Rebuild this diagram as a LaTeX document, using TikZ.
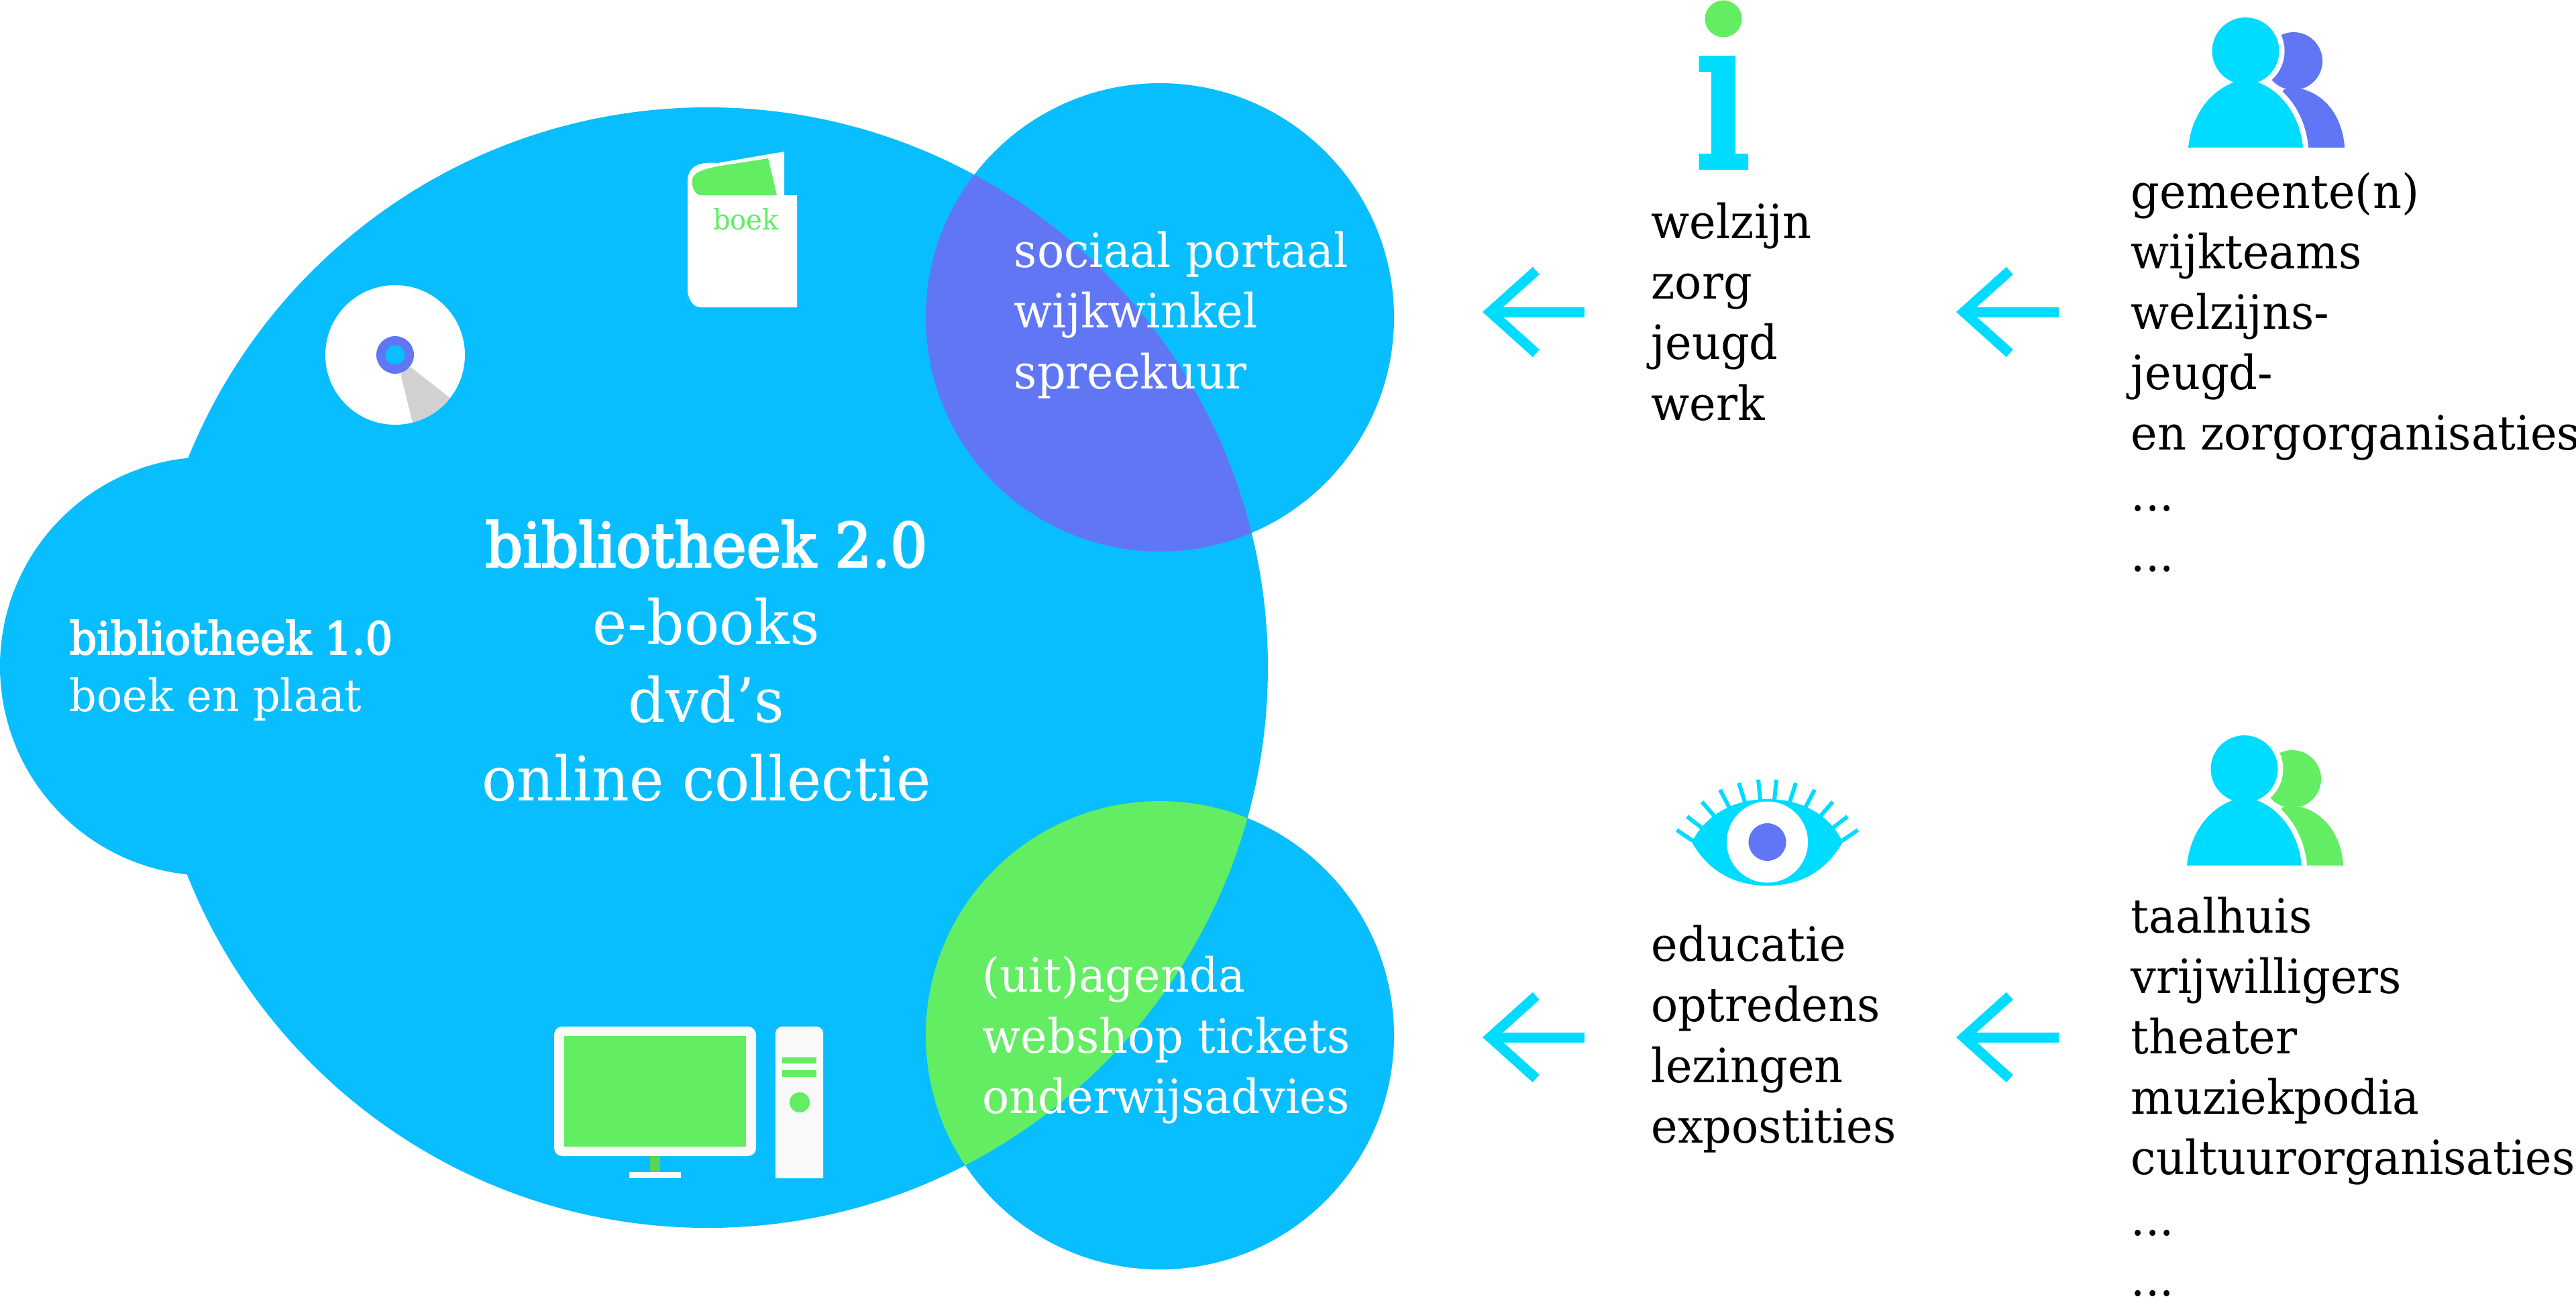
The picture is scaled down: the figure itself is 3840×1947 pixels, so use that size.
\documentclass[tikz,border=0pt]{standalone}
\usepackage{fontspec}
\usetikzlibrary{arrows.meta}
\setmainfont{DejaVu Serif}[FakeStretch=0.95]
\newfontfamily\slabsemi{DejaVu Serif}[FakeStretch=0.95,FakeBold=3]
\definecolor{skyblue}{HTML}{08BEFF}
\definecolor{lensblue}{HTML}{6076F5}
\definecolor{lensgreen}{HTML}{62ED62}
\definecolor{iconcyan}{HTML}{00DCFF}
\definecolor{paper}{HTML}{F9F9F9}
\tikzset{
  listtext/.style={inner sep=0pt,anchor=base west,align=left,font=\fontsize{20}{25.6}\selectfont,text=black},
  lenstext/.style={inner sep=0pt,anchor=base west,align=left,font=\fontsize{20}{25.6}\selectfont,text=white},
  conn/.style={draw=iconcyan,line width=0.15cm,-{Straight Barb[length=19.5pt,width=35pt]}},
  lash/.style={draw=iconcyan,line width=0.06cm},
  halo/.style={draw=white,line width=0.16cm,fill=iconcyan,line join=round}
}
\begin{document}
\begin{tikzpicture}[x=0.01cm,y=-0.01cm]
\useasboundingbox (0,0) rectangle (3840,1947);
\fill[white] (0,0) rectangle (3840,1947);
% circles
\fill[skyblue] (312,993) circle[radius=312];
\fill[skyblue] (1729,473) circle[radius=349];
\fill[skyblue] (1729,1543) circle[radius=349];
\fill[skyblue] (1055,995) circle[radius=835];
\begin{scope}
\clip (1055,995) circle[radius=835];
\fill[lensblue] (1729,473) circle[radius=349];
\fill[lensgreen] (1729,1543) circle[radius=349];
\end{scope}
% book
\fill[white] (1025,458) -- (1025,270) .. controls (1025,250) and (1040,240) .. (1069,243) -- (1169,226) -- (1169,291) -- (1188,291) -- (1188,458) -- (1045,458) .. controls (1032,458) and (1025,445) .. (1025,430) -- cycle;
\fill[lensgreen] (1145,236) -- (1158,291) -- (1046,291) .. controls (1036,291) and (1031,280) .. (1032,268) .. controls (1033,258) and (1045,253) .. (1069,248) -- cycle;
\node[inner sep=0pt,anchor=base,text=lensgreen,font=\fontsize{12}{14}\selectfont] (bookword) at (1112,342) {boek};
% cd
\fill[white] (589,529) circle[radius=104];
\begin{scope}
\clip (589,529) circle[radius=104];
\fill[black!18] (597,557) -- (612,547) -- (690,608) -- (620,650) -- cycle;
\end{scope}
\fill[lensblue] (589,529) circle[radius=28];
\fill[skyblue] (589,529) circle[radius=14.5];
% computer
\fill[paper,rounded corners=0.12cm] (826,1530) rectangle (1127,1723);
\fill[lensgreen] (841,1544) rectangle (1112,1709);
\fill[lensgreen!90!black] (969,1723) rectangle (984,1747);
\fill[paper] (938,1747) rectangle (1015,1756);
\fill[paper,rounded corners=0.1cm] (1156,1756) [sharp corners] -- (1156,1540) [rounded corners=0.1cm] -- (1156,1530) -- (1227,1530) -- (1227,1540) [sharp corners] -- (1227,1756) -- cycle;
\fill[lensgreen] (1166,1576) rectangle (1217,1585);
\fill[lensgreen] (1166,1595) rectangle (1217,1605);
\fill[lensgreen] (1192,1643) circle[radius=15];
% info i
\fill[lensgreen] (2569,28) circle[radius=27.5];
\fill[iconcyan] (2532.5,83) -- (2587,83) -- (2587,229) -- (2606,229) -- (2606,253) -- (2532.5,253) -- (2532.5,229) -- (2551,229) -- (2551,107) -- (2532.5,107) -- cycle;
% people, top
\fill[lensblue] (3419,91) circle[radius=43];
\fill[lensblue] (3495,220) .. controls (3493,185) and (3475,145) .. (3433,133) -- (3405,133) -- (3340,220) -- cycle;
\path[halo] (3347.5,76) circle[radius=50];
\path[halo] (3262,220) .. controls (3266,175) and (3292,136) .. (3332,122) -- (3364,122) .. controls (3403,136) and (3429,175) .. (3433,220) -- cycle;
\fill[iconcyan] (3347.5,76) circle[radius=50];
\fill[iconcyan] (3262,220) .. controls (3266,175) and (3292,136) .. (3332,122) -- (3364,122) .. controls (3403,136) and (3429,175) .. (3433,220) -- cycle;
% people, bottom
\begin{scope}[shift={(-2,1070)}]
\fill[lensgreen] (3419,91) circle[radius=43];
\fill[lensgreen] (3495,220) .. controls (3493,185) and (3475,145) .. (3433,133) -- (3405,133) -- (3340,220) -- cycle;
\path[halo] (3347.5,76) circle[radius=50];
\path[halo] (3262,220) .. controls (3266,175) and (3292,136) .. (3332,122) -- (3364,122) .. controls (3403,136) and (3429,175) .. (3433,220) -- cycle;
\fill[iconcyan] (3347.5,76) circle[radius=50];
\fill[iconcyan] (3262,220) .. controls (3266,175) and (3292,136) .. (3332,122) -- (3364,122) .. controls (3403,136) and (3429,175) .. (3433,220) -- cycle;
\end{scope}
% eye
\fill[iconcyan] (2522,1255) .. controls (2545,1210) and (2590,1191) .. (2634.5,1191) .. controls (2680,1191) and (2725,1210) .. (2747,1255) .. controls (2722,1298) and (2685,1320) .. (2634.5,1320) .. controls (2585,1320) and (2546,1298) .. (2522,1255) -- cycle;
\fill[white] (2634.5,1255) circle[radius=60.5];
\fill[lensblue] (2634.5,1255) circle[radius=28];
\draw[lash] (2499.5,1237) -- (2523,1253);
\draw[lash] (2515,1217) -- (2537,1234);
\draw[lash] (2537,1195) -- (2556,1217);
\draw[lash] (2564,1177) -- (2577.5,1203);
\draw[lash] (2592,1167) -- (2601,1195);
\draw[lash] (2621,1162) -- (2624,1192);
\draw[lash] (2769.5,1237) -- (2746,1253);
\draw[lash] (2754,1217) -- (2732,1234);
\draw[lash] (2732,1195) -- (2713,1217);
\draw[lash] (2705,1177) -- (2691.5,1203);
\draw[lash] (2677,1167) -- (2668,1195);
\draw[lash] (2648,1162) -- (2645,1192);
% connectors
\coordinate (a1from) at (2362,465); \coordinate (a1to) at (2210,465);
\coordinate (a2from) at (3069,465); \coordinate (a2to) at (2916,465);
\coordinate (a3from) at (2362,1546); \coordinate (a3to) at (2210,1546);
\coordinate (a4from) at (3069,1546); \coordinate (a4to) at (2916,1546);
\draw[conn] (a1from) -- (a1to);
\draw[conn] (a2from) -- (a2to);
\draw[conn] (a3from) -- (a3to);
\draw[conn] (a4from) -- (a4to);
% texts
\node[inner sep=0pt,anchor=base west,text=white,align=left,font={\fontsize{19}{24.2}\selectfont}] (lib1) at (103,1060) {{\slabsemi bibliotheek 1.0}\\boek en plaat};
\node[inner sep=0pt,anchor=base,text=white,align=center,font={\fontsize{26}{33}\selectfont}] (lib2) at (1053,1193) {{\slabsemi bibliotheek 2.0}\\e-books\\dvd’s\\online collectie};
\node[lenstext] (social) at (1511,579) {sociaal portaal\\wijkwinkel\\spreekuur};
\node[lenstext] (agenda) at (1464,1659) {(uit)agenda\\webshop tickets\\onderwijsadvies};
\node[listtext] (welfare) at (2461,626) {welzijn\\zorg\\jeugd\\werk};
\node[listtext] (parties) at (3176,851) {gemeente(n)\\wijkteams\\welzijns-\\jeugd-\\en zorgorganisaties\\...\\...};
\node[listtext] (edu) at (2461,1703) {educatie\\optredens\\lezingen\\expostities};
\node[listtext] (culture) at (3176,1931) {taalhuis\\vrijwilligers\\theater\\muziekpodia\\cultuurorganisaties\\...\\...};
\end{tikzpicture}
\end{document}
